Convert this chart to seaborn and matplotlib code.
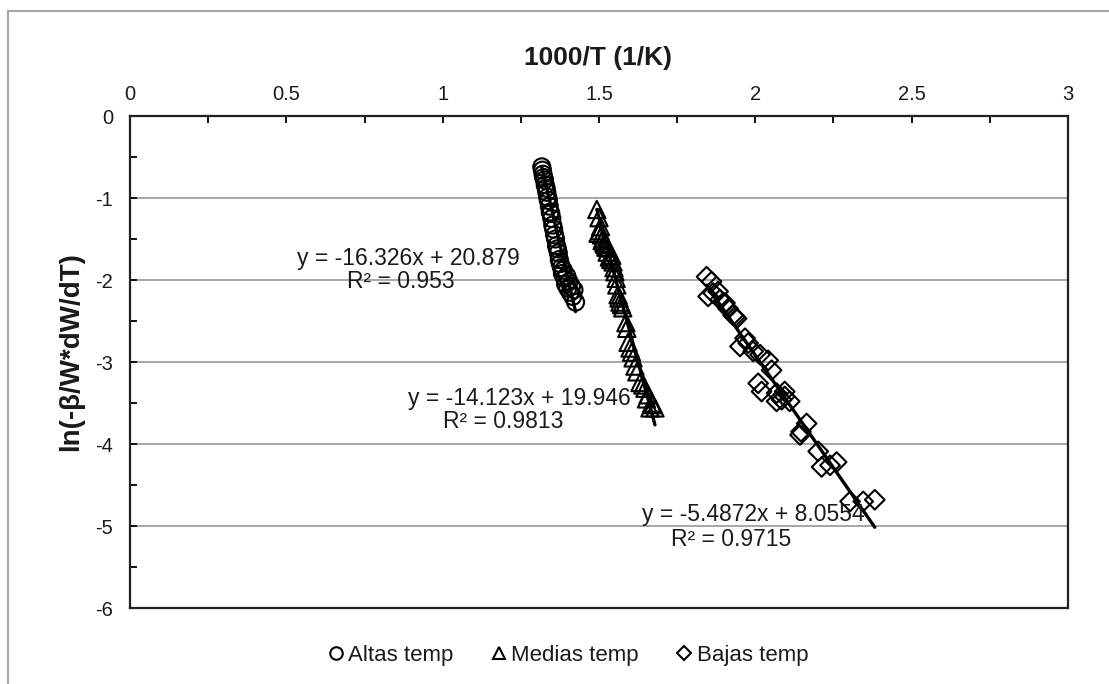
import numpy as np
import pandas as pd
import matplotlib
matplotlib.use("Agg")
import matplotlib.pyplot as plt
from matplotlib.lines import Line2D
import seaborn as sns

# ---------------- data ----------------
altas_x = [1.317, 1.319, 1.321, 1.323, 1.326, 1.328, 1.331, 1.333, 1.336, 1.338,
           1.341, 1.344, 1.346, 1.349, 1.352, 1.355, 1.358, 1.361, 1.364, 1.367,
           1.370, 1.373, 1.376, 1.380, 1.383, 1.386, 1.390, 1.393, 1.397, 1.400,
           1.404, 1.408, 1.412, 1.416, 1.420, 1.425]
altas_y = [-0.62, -0.66, -0.71, -0.75, -0.78, -0.84, -0.88, -0.93, -0.99, -1.03,
           -1.10, -1.17, -1.19, -1.25, -1.33, -1.38, -1.45, -1.50, -1.58, -1.62,
           -1.67, -1.75, -1.80, -1.85, -1.92, -1.88, -1.98, -2.05, -1.95, -2.10,
           -2.02, -2.15, -2.08, -2.20, -2.12, -2.27]

medias_x = [1.493, 1.497, 1.500, 1.503, 1.505, 1.508, 1.510, 1.513, 1.516, 1.519,
            1.522, 1.526, 1.529, 1.533, 1.538, 1.541, 1.545, 1.548, 1.551, 1.555,
            1.557, 1.561, 1.564, 1.567, 1.572, 1.576, 1.586, 1.589, 1.593, 1.599,
            1.604, 1.609, 1.615, 1.621, 1.631, 1.640, 1.647, 1.652, 1.657, 1.663,
            1.669, 1.673, 1.679]
medias_y = [-1.14, -1.43, -1.24, -1.40, -1.35, -1.45, -1.52, -1.49, -1.55, -1.57,
            -1.60, -1.66, -1.61, -1.72, -1.75, -1.70, -1.78, -1.85, -1.90, -1.98,
            -2.06, -2.18, -2.22, -2.27, -2.30, -2.34, -2.52, -2.59, -2.76, -2.83,
            -2.88, -2.95, -3.05, -3.12, -3.25, -3.28, -3.32, -3.45, -3.40, -3.56,
            -3.50, -3.52, -3.56]

bajas_x = [1.844, 1.849, 1.860, 1.865, 1.881, 1.887, 1.903, 1.913, 1.929, 1.935,
           1.940, 1.951, 1.967, 1.977, 1.993, 2.009, 2.015, 2.020, 2.041, 2.052,
           2.068, 2.068, 2.084, 2.094, 2.094, 2.110, 2.143, 2.146, 2.164, 2.201,
           2.212, 2.239, 2.260, 2.303, 2.345, 2.382]
bajas_y = [-1.96, -2.20, -2.02, -2.16, -2.14, -2.24, -2.28, -2.35, -2.43, -2.45,
           -2.47, -2.81, -2.71, -2.77, -2.87, -3.26, -2.91, -3.36, -2.98, -3.10,
           -3.38, -3.48, -3.46, -3.36, -3.42, -3.48, -3.89, -3.85, -3.75, -4.09,
           -4.28, -4.26, -4.22, -4.70, -4.70, -4.68]

series_names = ["Altas temp", "Medias temp", "Bajas temp"]
fit_slopes = [-16.326, -14.123, -5.4872]
fit_intercepts = [20.879, 19.946, 8.0554]
fit_r2 = ["0.953", "0.9813", "0.9715"]

x_ticks = [0, 0.5, 1, 1.5, 2, 2.5, 3]
x_tick_labels = ["0", "0.5", "1", "1.5", "2", "2.5", "3"]
y_ticks = [0, -1, -2, -3, -4, -5, -6]
y_tick_labels = ["0", "-1", "-2", "-3", "-4", "-5", "-6"]

# ---------------- style ----------------
sns.set_theme(style="white")
plt.rcParams["font.family"] = ["Liberation Sans", "DejaVu Sans"]
TXT = "#1a1a1a"

W, H = 1109, 684
fig = plt.figure(figsize=(W / 100, H / 100), dpi=100)
ax = fig.add_axes([130 / W, 1 - 608 / H, (1068 - 130) / W, (608 - 116) / H])

ax.set_axisbelow(True)
ax.yaxis.grid(True, color="#a6a6a6", linewidth=1.4)
ax.xaxis.grid(False)

markers = ["o", "^", "D"]
sizes = [150, 155, 100]
xs = [altas_x, medias_x, bajas_x]
ys = [altas_y, medias_y, bajas_y]

for name, mk, s, xv, yv in zip(series_names, markers, sizes, xs, ys):
    df = pd.DataFrame({"x": xv, "y": yv})
    sns.scatterplot(data=df, x="x", y="y", marker=mk, s=s, ax=ax,
                    facecolor="none", edgecolor="black", linewidth=1.5,
                    label=name, zorder=3)

for xv, m, b in zip(xs, fit_slopes, fit_intercepts):
    xl = np.array([min(xv), max(xv)])
    sns.lineplot(x=xl, y=m * xl + b, ax=ax, color="black", linewidth=2.4,
                 zorder=4, legend=False)

label_pos = [((408, 258), (401, 282)), ((519, 398), (503, 422)), ((753, 515), (731, 539))]
for (p1, p2), m, b, r2 in zip(label_pos, fit_slopes, fit_intercepts, fit_r2):
    fig.text(p1[0] / W, 1 - p1[1] / H, f"y = {m}x + {b}", ha="center", va="center",
             fontsize=16.5, color=TXT)
    fig.text(p2[0] / W, 1 - p2[1] / H, f"R² = {r2}", ha="center", va="center",
             fontsize=16.5, color=TXT)

ax.set_xlim(0, 3)
ax.set_ylim(-6, 0)
ax.set_xticks(x_ticks)
ax.set_xticklabels(x_tick_labels)
ax.set_xticks(np.arange(0, 3.01, 0.25), minor=True)
ax.set_yticks(y_ticks)
ax.set_yticklabels(y_tick_labels)
ax.set_yticks(np.arange(-6, 0.01, 0.5), minor=True)

ax.xaxis.tick_top()
ax.tick_params(axis="x", which="both", direction="in", length=5, width=1.3,
               color="black", labelsize=14.5, labelcolor=TXT, pad=9, top=True, bottom=False)
ax.tick_params(axis="y", which="both", direction="in", length=5, width=1.3,
               color="black", labelsize=14.5, labelcolor=TXT, pad=12, left=True, right=False)

for side in ["left", "top", "right", "bottom"]:
    ax.spines[side].set_visible(True)
    ax.spines[side].set_color("#222222")
    ax.spines[side].set_linewidth(1.6)

ax.set_xlabel("")
ax.set_ylabel("")
fig.text(598 / W, 1 - 58 / H, "1000/T (1/K)", ha="center", va="center",
         fontsize=19, fontweight="bold", color=TXT)
fig.text(71 / W, 1 - 352 / H, "ln(-β/W*dW/dT)", ha="center", va="center",
         rotation=90, fontsize=20, fontweight="bold", color=TXT)

ax.get_legend().remove()
leg_handles = [Line2D([], [], marker=mk, linestyle="none", markerfacecolor="none",
                      markeredgecolor="black", markeredgewidth=1.5, markersize=ms)
               for mk, ms in zip(markers, [9, 9, 7])]
fig.legend(leg_handles, series_names, loc="center", ncol=3, frameon=False,
           bbox_to_anchor=(566 / W, 1 - 655 / H), fontsize=16, handletextpad=0.0,
           columnspacing=1.5, handlelength=1.1, labelcolor=TXT)

fig.add_artist(Line2D([8 / W, 8 / W], [0, 1 - 11 / H], color="#a6a6a6", linewidth=1.5))
fig.add_artist(Line2D([8 / W, 1], [1 - 11 / H, 1 - 11 / H], color="#a6a6a6", linewidth=1.5))

fig.savefig("out.png", dpi=100)
